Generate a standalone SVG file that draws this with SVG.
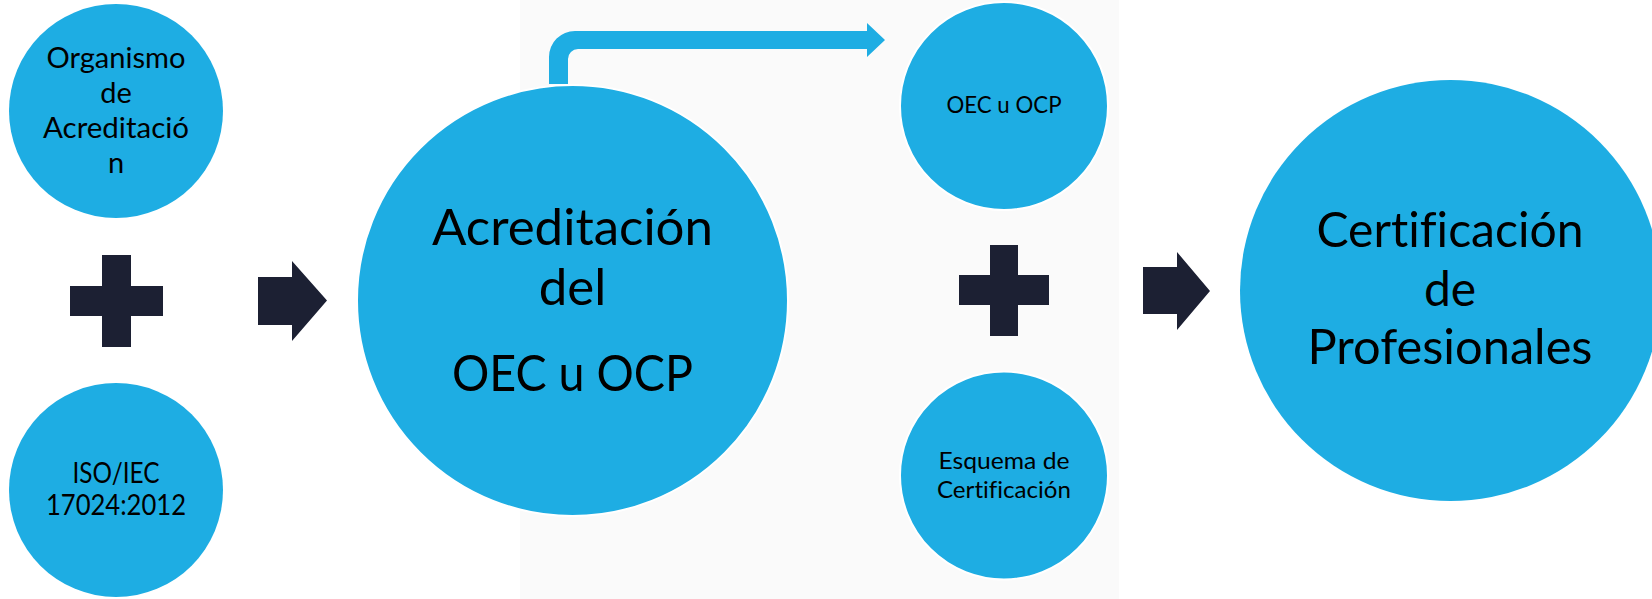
<svg xmlns="http://www.w3.org/2000/svg" width="1652" height="599" viewBox="0 0 1652 599">
<style>
.node{fill:#1eade3;stroke:#ffffff;stroke-width:2}
.dark{fill:#1c2033}
.t{font-family:Lato,"Open Sans","Liberation Sans",sans-serif;fill:#000000;text-anchor:middle;font-variant-ligatures:none}
.s1{font-size:29px}
.s2{font-size:24px}
.s3{font-size:51px}
.s4{font-size:48px}
</style>
<rect x="0" y="0" width="1652" height="599" fill="#ffffff"/>
<rect id="panel" x="520" y="0" width="599" height="599" fill="#fafafa"/>
<g id="connectors">
<path class="node" style="stroke:none" d="M549,84 V57 A26,26 0 0 1 575,31 H867 V23 L885,40 L867,57 V49 H578 A10,10 0 0 0 568,59 V84 Z"/>
<path class="dark" d="M258,277 H292 V261 L327,300.5 L292,341 V325 H258 Z"/>
<path class="dark" d="M1143,267 H1177 V252 L1210,291 L1177,330 V314 H1143 Z"/>
<path class="dark" d="M102,255 H131 V286 H163 V316 H131 V347 H102 V316 H70 V286 H102 Z"/>
<path class="dark" d="M990,245 H1018 V275 H1049 V305 H1018 V336 H990 V305 H959 V275 H990 Z"/>
</g>
<g id="organismo">
<circle class="node" cx="116" cy="111" r="107" style="stroke:none"/>
<text class="t s1" x="116" y="68" textLength="139" lengthAdjust="spacingAndGlyphs">Organismo</text>
<text class="t s1" x="116" y="103">de</text>
<text class="t s1" x="116" y="138" textLength="146" lengthAdjust="spacingAndGlyphs">Acreditació</text>
<text class="t s1" x="116" y="173">n</text>
</g>
<g id="iso">
<circle class="node" cx="116" cy="490" r="107" style="stroke:none"/>
<text class="t s1" x="116" y="483" textLength="87" lengthAdjust="spacingAndGlyphs">ISO/IEC</text>
<text class="t s1" x="116" y="515" textLength="140" lengthAdjust="spacingAndGlyphs">17024:2012</text>
</g>
<g id="acreditacion">
<circle class="node" cx="572.5" cy="300.5" r="215.5"/>
<text class="t s3" x="572.5" y="245" textLength="281" lengthAdjust="spacingAndGlyphs">Acreditación</text>
<text class="t s3" x="572.5" y="305">del</text>
<text class="t s3" x="572.5" y="391" textLength="241" lengthAdjust="spacingAndGlyphs">OEC u OCP</text>
</g>
<g id="oec">
<circle class="node" cx="1004" cy="106" r="104"/>
<text class="t s2" x="1004" y="113" textLength="115" lengthAdjust="spacingAndGlyphs">OEC u OCP</text>
</g>
<g id="esquema">
<circle class="node" cx="1004" cy="475.5" r="104"/>
<text class="t s2" x="1004" y="469" textLength="131" lengthAdjust="spacingAndGlyphs">Esquema de</text>
<text class="t s2" x="1004" y="498" textLength="134" lengthAdjust="spacingAndGlyphs">Certificación</text>
</g>
<g id="certificacion">
<circle class="node" cx="1450.5" cy="290.5" r="210.5" style="stroke:none"/>
<text class="t s4" x="1450" y="247" textLength="267" lengthAdjust="spacingAndGlyphs">Certificación</text>
<text class="t s4" x="1450" y="306">de</text>
<text class="t s4" x="1450" y="364" textLength="285" lengthAdjust="spacingAndGlyphs">Profesionales</text>
</g>
</svg>
